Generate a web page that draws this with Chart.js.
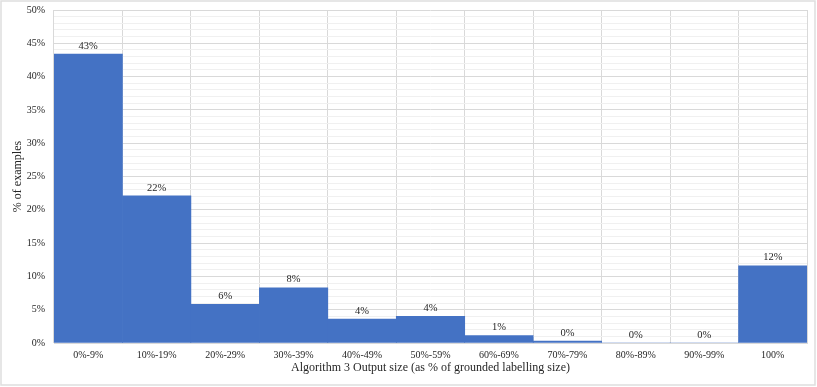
<!DOCTYPE html>
<html>
<head>
<meta charset="utf-8">
<script src="https://cdn.jsdelivr.net/npm/chart.js@4.4.1/dist/chart.umd.min.js"></script>
<style>
  html, body { margin: 0; padding: 0; background: #fff; }
</style>
</head>
<body>
<canvas id="chart" width="817" height="387"></canvas>
<script>
const categories = ['0%-9%', '10%-19%', '20%-29%', '30%-39%', '40%-49%', '50%-59%', '60%-69%', '70%-79%', '80%-89%', '90%-99%', '100%'];
const shareOfExamples = [43.4, 22.1, 5.8, 8.3, 3.6, 4.0, 1.1, 0.3, 0, 0, 11.6];
const yTickLabels = ['0%', '5%', '10%', '15%', '20%', '25%', '30%', '35%', '40%', '45%', '50%'];

const serif = "'Liberation Serif', 'Times New Roman', serif";
const textColor = '#262626';

// light frame around the whole chart
const frame = {
  id: 'frame',
  beforeDraw(chart) {
    const ctx = chart.ctx;
    ctx.save();
    ctx.strokeStyle = '#dedede';
    ctx.lineWidth = 1.5;
    ctx.strokeRect(1, 1, chart.width - 3, chart.height - 3);
    ctx.restore();
  }
};

// value labels above each bar
const barLabels = {
  id: 'barLabels',
  afterDatasetsDraw(chart) {
    const ctx = chart.ctx;
    const meta = chart.getDatasetMeta(0);
    ctx.save();
    ctx.font = '10.5px ' + serif;
    ctx.fillStyle = textColor;
    ctx.textAlign = 'center';
    ctx.textBaseline = 'middle';
    meta.data.forEach((bar, i) => {
      ctx.fillText(Math.round(shareOfExamples[i]) + '%', bar.x, bar.y - 8);
    });
    ctx.restore();
  }
};

new Chart(document.getElementById('chart'), {
  type: 'bar',
  data: {
    labels: categories,
    datasets: [{
      data: shareOfExamples,
      backgroundColor: '#4472C4',
      borderWidth: 0,
      barPercentage: 1,
      categoryPercentage: 1
    }]
  },
  options: {
    responsive: false,
    animation: false,
    layout: { padding: { top: 0, right: 10, bottom: 12, left: 9 } },
    plugins: {
      legend: { display: false },
      tooltip: { enabled: false }
    },
    scales: {
      x: {
        afterFit: s => { s.height = 32; },
        grid: { color: '#d9d9d9', drawTicks: false },
        border: { color: '#d9d9d9' },
        ticks: { color: textColor, font: { family: serif, size: 10 }, padding: 6, maxRotation: 0 },
        title: {
          display: true,
          text: 'Algorithm 3 Output size (as % of grounded labelling size)',
          color: textColor,
          font: { family: serif, size: 12 },
          padding: { top: 0, bottom: 0 }
        }
      },
      y: {
        min: 0,
        max: 50,
        afterFit: s => { s.width = 45; s.paddingTop = 10; },
        grid: {
          drawTicks: false,
          color: c => (c.tick && c.tick.value % 5 === 0) ? '#d9d9d9' : '#f0f0f0'
        },
        border: { display: false },
        ticks: {
          stepSize: 1,
          autoSkip: false,
          padding: 9,
          color: textColor,
          font: { family: serif, size: 10 },
          callback: v => v % 5 === 0 ? yTickLabels[v / 5] : ''
        },
        title: {
          display: true,
          text: '% of examples',
          color: textColor,
          font: { family: serif, size: 12 },
          padding: { top: 2, bottom: 2 }
        }
      }
    }
  },
  plugins: [frame, barLabels]
});
</script>
</body>
</html>
